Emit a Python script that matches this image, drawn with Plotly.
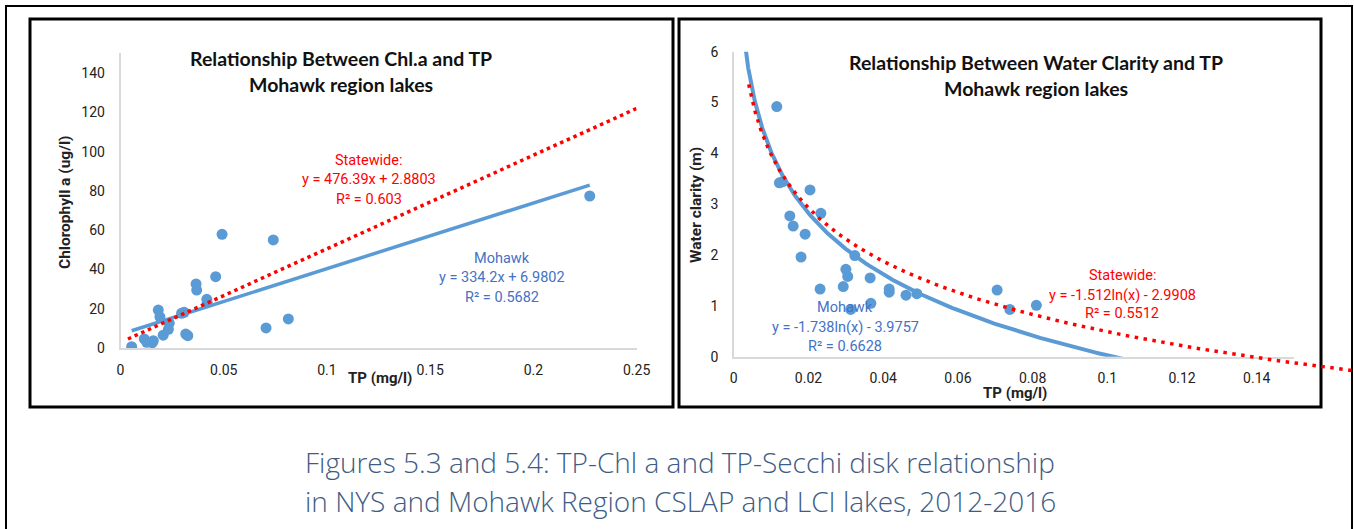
import numpy as np
import plotly.graph_objects as go

W, H = 1354, 529

# ---------------- data ----------------
# Left chart: Chl a vs TP (Mohawk region lakes)
chl_tp = [0.0054, 0.0115, 0.0127, 0.0154, 0.0159, 0.0207, 0.0183, 0.0191, 0.0232, 0.0236,
          0.0296, 0.0308, 0.0316, 0.0326, 0.0366, 0.0369, 0.0418, 0.0420, 0.0461, 0.0492,
          0.0705, 0.0740, 0.0813, 0.2273]
chl_a = [0.7, 4.6, 2.9, 2.7, 3.7, 6.5, 19.3, 15.9, 9.5, 12.6,
         17.7, 18.2, 7.1, 6.3, 32.6, 29.5, 24.8, 23.1, 36.3, 57.9,
         10.2, 55.0, 14.8, 77.4]

# Right chart: Secchi depth vs TP
sec_tp = [0.0115, 0.0122, 0.0130, 0.0204, 0.0150, 0.0159, 0.0191, 0.0233, 0.0180, 0.0231,
          0.0324, 0.0300, 0.0305, 0.0293, 0.0365, 0.0367, 0.0313, 0.0416, 0.0416, 0.0461,
          0.0490, 0.0705, 0.0739, 0.0810]
secchi = [4.92, 3.42, 3.44, 3.28, 2.77, 2.57, 2.41, 2.82, 1.96, 1.33,
          1.99, 1.72, 1.58, 1.38, 1.55, 1.05, 0.93, 1.33, 1.27, 1.21,
          1.24, 1.31, 0.93, 1.01]

# trendline coefficients (as printed on chart)
chl_moh = (334.2, 6.9802)
chl_state = (476.39, 2.8803)
sec_moh = (-1.738, -3.9757)
sec_state = (-1.512, -2.9908)
chl_state_extent = (0.0036, 0.25)
sec_moh_extent = (0.0025, 0.11)
sec_state_extent = (0.004, 0.166)

x1_ticks = [0, 0.05, 0.1, 0.15, 0.2, 0.25]
x1_text = ["0", "0.05", "0.1", "0.15", "0.2", "0.25"]
y1_ticks = [0, 20, 40, 60, 80, 100, 120, 140]
x2_ticks = [0, 0.02, 0.04, 0.06, 0.08, 0.1, 0.12, 0.14]
x2_text = ["0", "0.02", "0.04", "0.06", "0.08", "0.1", "0.12", "0.14"]
y2_ticks = [0, 1, 2, 3, 4, 5, 6]

# ---------------- style ----------------
BLUE = "#5B9BD5"
TXTBLUE = "#4472C4"
RED = "#FF0000"
AXC = "#D9D9D9"
TFONT = "Roboto, Liberation Sans, sans-serif"
HFONT = "Lato, Open Sans, sans-serif"
CFONT = "Open Sans, Lato, sans-serif"


def px(x):
    return x / W


def py(y):
    return 1 - y / H


fig = go.Figure()

# left chart
fig.add_trace(go.Scatter(x=chl_tp, y=chl_a, mode="markers",
                         marker=dict(size=11, color=BLUE), xaxis="x", yaxis="y"))
xl = np.linspace(min(chl_tp), max(chl_tp), 50)
fig.add_trace(go.Scatter(x=xl, y=chl_moh[0] * xl + chl_moh[1], mode="lines",
                         line=dict(color=BLUE, width=3.5), xaxis="x", yaxis="y"))
xs = np.linspace(*chl_state_extent, 50)
fig.add_trace(go.Scatter(x=xs, y=chl_state[0] * xs + chl_state[1], mode="lines",
                         line=dict(color=RED, width=3.5, dash="3.5px,3.8px"), xaxis="x", yaxis="y"))

# right chart
fig.add_trace(go.Scatter(x=sec_tp, y=secchi, mode="markers",
                         marker=dict(size=11, color=BLUE), xaxis="x2", yaxis="y2"))
xm = np.geomspace(*sec_moh_extent, 300)
fig.add_trace(go.Scatter(x=xm, y=sec_moh[0] * np.log(xm) + sec_moh[1], mode="lines",
                         line=dict(color=BLUE, width=4), xaxis="x2", yaxis="y2"))
xr = np.geomspace(*sec_state_extent, 300)
fig.add_trace(go.Scatter(x=xr, y=sec_state[0] * np.log(xr) + sec_state[1], mode="lines",
                         line=dict(color=RED, width=3.5, dash="3.5px,5.5px"), xaxis="x3", yaxis="y3"))

tick_font = dict(family=TFONT, size=14, color="#222222")

# geometry (pixels)
L_x0, L_x1, L_y0, L_y1 = 120.5, 636.6, 348.0, 53.4
R_x0, R_x1, R_y0, R_y1 = 733.8, 1294.1, 356.7, 51.7
R_ext_right, R_ext_bottom = 1354.0, 374.5
r_xmax = 0.15 * (R_ext_right - R_x0) / (R_x1 - R_x0)
r_ymin = -(R_ext_bottom - R_y0) / ((R_y0 - R_y1) / 6)

common_x = dict(showgrid=False, zeroline=False, showline=True, linecolor=AXC, linewidth=1.5,
                ticks="outside", ticklen=8, tickcolor="rgba(0,0,0,0)", tickfont=tick_font,
                fixedrange=True)
common_y = dict(showgrid=False, zeroline=False, showline=True, linecolor=AXC, linewidth=1.5,
                ticks="outside", ticklen=11, tickcolor="rgba(0,0,0,0)", tickfont=tick_font,
                fixedrange=True)

fig.update_layout(
    width=W, height=H, margin=dict(l=0, r=0, t=0, b=0, autoexpand=False),
    paper_bgcolor="white", plot_bgcolor="rgba(0,0,0,0)", showlegend=False,
    xaxis=dict(domain=[px(L_x0), px(L_x1)], range=[0, 0.25], tickvals=x1_ticks, ticktext=x1_text,
               anchor="y", **common_x),
    yaxis=dict(domain=[py(L_y0), py(L_y1)], range=[0, 150], tickvals=y1_ticks, anchor="x", **common_y),
    xaxis2=dict(domain=[px(R_x0), px(R_x1)], range=[0, 0.15], tickvals=x2_ticks, ticktext=x2_text,
                anchor="y2", **common_x),
    yaxis2=dict(domain=[py(R_y0), py(R_y1)], range=[0, 6], tickvals=y2_ticks, anchor="x2", **common_y),
    xaxis3=dict(domain=[px(R_x0), 1.0], range=[0, r_xmax], visible=False, anchor="y3", fixedrange=True),
    yaxis3=dict(domain=[py(R_ext_bottom), py(R_y1)], range=[r_ymin, 6], visible=False, anchor="x3",
                fixedrange=True),
)

shapes = [
    dict(type="rect", xref="paper", yref="paper", x0=px(6), x1=px(1352), y0=py(540), y1=py(6),
         line=dict(color="black", width=2), layer="below"),
    dict(type="rect", xref="paper", yref="paper", x0=px(30), x1=px(673), y0=py(407), y1=py(19),
         line=dict(color="black", width=3), layer="below"),
    dict(type="rect", xref="paper", yref="paper", x0=px(679), x1=px(1321), y0=py(407), y1=py(19),
         line=dict(color="black", width=3), layer="below"),
]
fig.update_layout(shapes=shapes)


def ann(x, y, text, size=14.5, color="#222222", family=TFONT, weight=None, angle=0):
    f = dict(family=family, size=size, color=color)
    if weight:
        f["weight"] = weight
    fig.add_annotation(x=px(x), y=py(y), xref="paper", yref="paper", text=text, showarrow=False,
                       font=f, xanchor="center", yanchor="middle", textangle=angle)


# titles
TS = 19.5
ann(341, 59, "Relationship Between Chl.a and TP", size=TS, family=HFONT, weight=700, color="#111111")
ann(341, 85, "Mohawk region lakes", size=TS, family=HFONT, weight=700, color="#111111")
ann(1036, 62, "Relationship Between Water Clarity and TP", size=TS, family=HFONT, weight=700, color="#111111")
ann(1036, 88, "Mohawk region lakes", size=TS, family=HFONT, weight=700, color="#111111")

# axis titles
ann(65, 202, "Chlorophyll a (ug/l)", size=15.5, weight=700, angle=-90)
ann(380, 378, "TP (mg/l)", size=15, weight=700)
ann(696, 205, "Water clarity (m)", size=15.5, weight=700, angle=-90)
ann(1015, 393, "TP (mg/l)", size=15, weight=700)

# trendline labels
ann(368.6, 160, "Statewide:", color=RED)
ann(368.6, 180, "y = 476.39x + 2.8803", color=RED)
ann(368.6, 199, "R² = 0.603", color=RED)
ann(501.7, 258, "Mohawk", color=TXTBLUE)
ann(501.7, 277, "y = 334.2x + 6.9802", color=TXTBLUE)
ann(501.7, 297, "R² = 0.5682", color=TXTBLUE)

ann(1122, 275, "Statewide:", color=RED)
ann(1122, 295, "y = -1.512ln(x) - 2.9908", color=RED)
ann(1122, 313, "R² = 0.5512", color=RED)
ann(845, 307, "Mohawk", color=TXTBLUE)
ann(845, 327, "y = -1.738ln(x) - 3.9757", color=TXTBLUE)
ann(845, 346, "R² = 0.6628", color=TXTBLUE)

# caption
ann(680, 462, "Figures 5.3 and 5.4: TP-Chl a and TP-Secchi disk relationship", size=28,
    family=CFONT, weight=300, color="#3E5C84")
ann(680, 501, "in NYS and Mohawk Region CSLAP and LCI lakes, 2012-2016", size=28,
    family=CFONT, weight=300, color="#3E5C84")

fig.write_html("out.html", config={"displayModeBar": False},
               post_script="document.body.style.margin='0';document.body.style.overflow='hidden';")
